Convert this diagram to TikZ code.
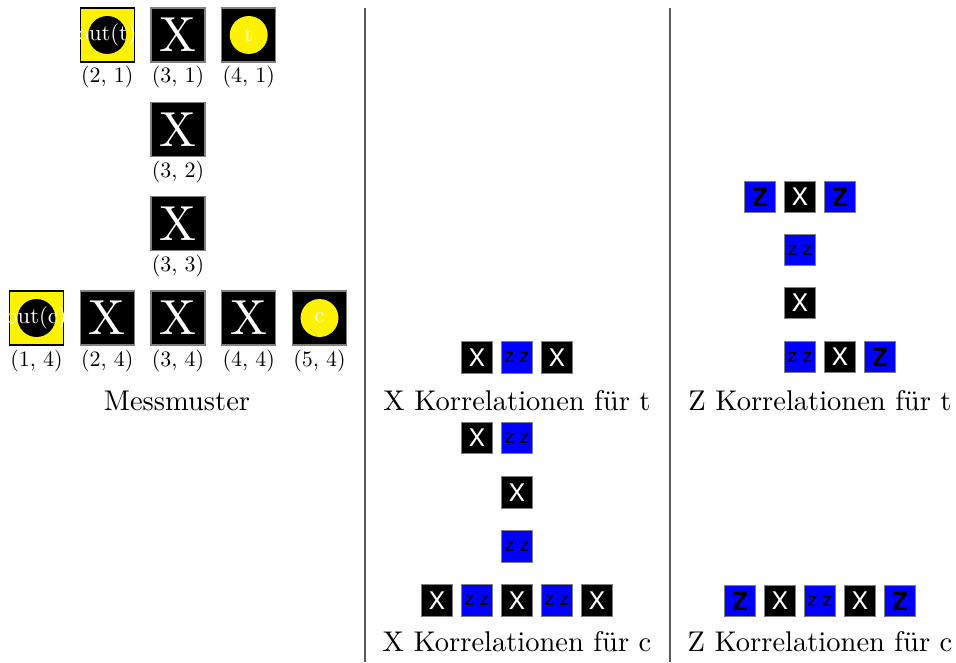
\documentclass[tikz,border=0pt]{standalone}
\usepackage{fontspec}
\setmainfont{lmroman10-regular}[Extension=.otf]
\newfontfamily\heros{TeX Gyre Heros}
\begin{document}
\begin{tikzpicture}[x=0.35088pt,y=-0.35088pt,
  cell/.style={minimum size=18.95pt, inner sep=0pt, draw=gray, line width=0.4pt},
  xcell/.style={cell, fill=black, text=white, font=\fontsize{17.28}{20}\selectfont},
  outcell/.style={cell, fill=yellow, draw=black},
  qcell/.style={cell, fill=black},
  outdot/.style={circle, fill=black, minimum size=13.3pt, inner sep=0pt},
  qdot/.style={circle, fill=yellow, minimum size=13.3pt, inner sep=0pt},
  dottext/.style={font=\fontsize{7.9}{9}\selectfont, text=white, inner sep=0pt},
  poslabel/.style={anchor=base, font=\fontsize{7.7}{9}\selectfont},
  captiontext/.style={anchor=base},
  smallcell/.style={minimum size=11.05pt, inner sep=0pt, draw=gray, line width=0.4pt},
  sx/.style={smallcell, fill=black, text=white, font=\heros\fontsize{8.5}{10}\selectfont},
  sz/.style={smallcell, fill=blue, text=black, font=\heros\bfseries\fontsize{8.8}{10}\selectfont},
  szz/.style={smallcell, fill=blue, text=black, font=\heros\fontsize{6.8}{8}\selectfont},
  divider/.style={draw=black!65, line width=0.5pt}
]
\useasboundingbox (0,0) rectangle (956,662);

% measurement pattern
\node[outcell] (m21) at (107.25,35) {};
\node[outdot] (d21) at (m21) {};
\node[dottext] at (d21) {out(t)};
\node[xcell] (m31) at (178,35) {X};
\node[qcell] (m41) at (248.75,35) {};
\node[qdot] (d41) at (m41) {};
\node[dottext] at (d41) {t};
\node[xcell] (m32) at (178,129.3) {X};
\node[xcell] (m33) at (178,223.6) {X};
\node[outcell] (m14) at (36.5,318) {};
\node[outdot] (d14) at (m14) {};
\node[dottext] at (d14) {out(c)};
\node[xcell] (m24) at (107.25,318) {X};
\node[xcell] (m34) at (178,318) {X};
\node[xcell] (m44) at (248.75,318) {X};
\node[qcell] (m54) at (319.5,318) {};
\node[qdot] (d54) at (m54) {};
\node[dottext] at (d54) {c};

\node[poslabel] (l21) at (107.25,83) {(2, 1)};
\node[poslabel] (l31) at (178,83) {(3, 1)};
\node[poslabel] (l41) at (248.75,83) {(4, 1)};
\node[poslabel] (l32) at (178,177.3) {(3, 2)};
\node[poslabel] (l33) at (178,271.6) {(3, 3)};
\node[poslabel] (l14) at (36.5,366) {(1, 4)};
\node[poslabel] (l24) at (107.25,366) {(2, 4)};
\node[poslabel] (l34) at (178,366) {(3, 4)};
\node[poslabel] (l44) at (248.75,366) {(4, 4)};
\node[poslabel] (l54) at (319.5,366) {(5, 4)};
\node[captiontext] (cap1) at (177,410) {Messmuster};

% dividers
\coordinate (s1top) at (365,8);
\coordinate (s1bot) at (365,662);
\coordinate (s2top) at (670,8);
\coordinate (s2bot) at (670,662);
\draw[divider] (s1top) -- (s1bot);
\draw[divider] (s2top) -- (s2bot);

% X correlations for t
\node[sx]  (xt1) at (477,357.5) {X};
\node[szz] (xt2) at (517,357.5) {z z};
\node[sx]  (xt3) at (557,357.5) {X};
\node[captiontext] (cap2) at (517,410) {X Korrelationen für t};

% X correlations for c
\node[sx]  (xc21) at (477,438) {X};
\node[szz] (xc31) at (517,438) {z z};
\node[sx]  (xc32) at (517,492.5) {X};
\node[szz] (xc33) at (517,546.5) {z z};
\node[sx]  (xc14) at (437,600.5) {X};
\node[szz] (xc24) at (477,600.5) {z z};
\node[sx]  (xc34) at (517,600.5) {X};
\node[szz] (xc44) at (557,600.5) {z z};
\node[sx]  (xc54) at (597,600.5) {X};
\node[captiontext] (cap3) at (517,651) {X Korrelationen für c};

% Z correlations for t
\node[sz]  (zt21) at (760,197) {Z};
\node[sx]  (zt31) at (800,197) {X};
\node[sz]  (zt41) at (840,197) {Z};
\node[szz] (zt32) at (800,250) {z z};
\node[sx]  (zt33) at (800,303) {X};
\node[szz] (zt34) at (800,357) {z z};
\node[sx]  (zt44) at (840,357) {X};
\node[sz]  (zt54) at (880,357) {Z};
\node[captiontext] (cap4) at (820,410) {Z Korrelationen für t};

% Z correlations for c
\node[sz]  (zc1) at (740,601) {Z};
\node[sx]  (zc2) at (780,601) {X};
\node[szz] (zc3) at (820,601) {z z};
\node[sx]  (zc4) at (860,601) {X};
\node[sz]  (zc5) at (900,601) {Z};
\node[captiontext] (cap5) at (820,651) {Z Korrelationen für c};
\end{tikzpicture}
\end{document}
